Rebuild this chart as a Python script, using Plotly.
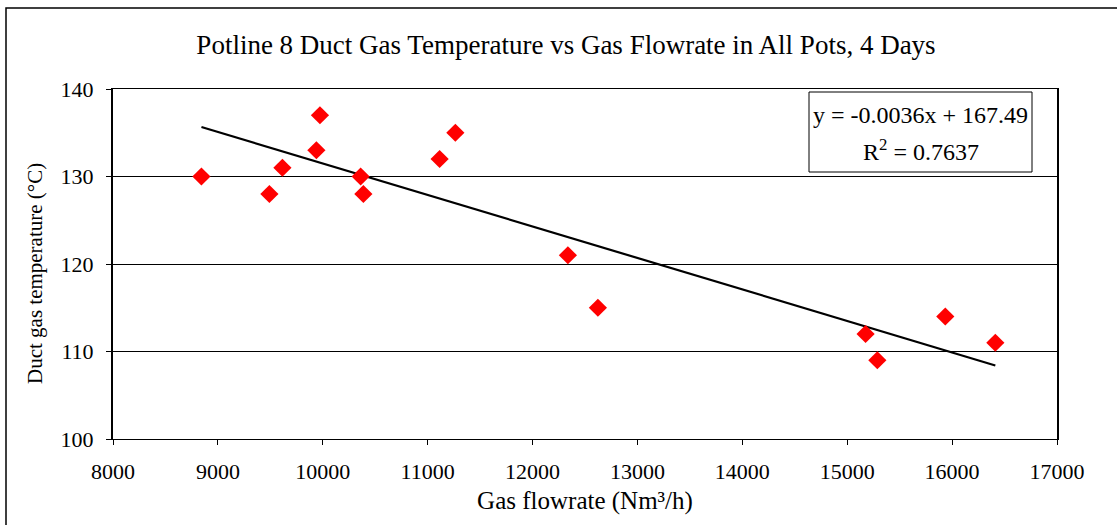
import plotly.graph_objects as go

flowrate = [8843, 9491, 9615, 9939, 9973, 10361, 10387, 11114, 11264,
            12337, 12623, 15175, 15287, 15935, 16412]
temperature = [130, 128, 131, 133, 137, 130, 128, 132, 135,
               121, 115, 112, 109, 114, 111]
slope = -0.0036
intercept = 167.49
r_squared = 0.7637
x_ticks = [8000, 9000, 10000, 11000, 12000, 13000, 14000, 15000, 16000, 17000]
y_ticks = [100, 110, 120, 130, 140]

FONT = "Liberation Serif, Times New Roman, serif"

W, H = 1117, 525
L, R, T, B = 113, W - 1057, 89, H - 439
pw, ph = W - L - R, H - T - B

def px_x(p):
    return (p - L) / pw

def px_y(p):
    return (H - B - p) / ph

fig = go.Figure()

xmin, xmax = min(flowrate), max(flowrate)
fig.add_trace(go.Scatter(
    x=[xmin, xmax], y=[slope * xmin + intercept, slope * xmax + intercept],
    mode="lines", line=dict(color="black", width=2.2), hoverinfo="skip",
    showlegend=False))

fig.add_trace(go.Scatter(
    x=flowrate, y=temperature, mode="markers",
    marker=dict(symbol="diamond", size=14, color="#ff0000",
                line=dict(width=0)),
    showlegend=False))

fig.update_layout(
    width=W, height=H,
    margin=dict(l=L, r=R, t=T, b=B),
    paper_bgcolor="white", plot_bgcolor="white",
    font=dict(family=FONT, size=22, color="black"),
    title=dict(text="Potline 8 Duct Gas Temperature vs Gas Flowrate in All Pots, 4 Days",
               x=566 / W, xanchor="center", y=1 - 45 / H, yanchor="middle",
               font=dict(family=FONT, size=27, color="black")),
    xaxis=dict(range=[8000, 17000], tickvals=x_ticks,
               ticktext=[str(v) for v in x_ticks],
               showgrid=False, zeroline=False,
               showline=True, linecolor="black", linewidth=1, mirror=True,
               ticks="outside", ticklen=5, tickcolor="black",
               ticklabelstandoff=8,
               tickfont=dict(family=FONT, size=22),
               title=dict(text="Gas flowrate (Nm³/h)", standoff=8,
                          font=dict(family=FONT, size=25))),
    yaxis=dict(range=[100, 140], tickvals=y_ticks,
               ticktext=[str(v) for v in y_ticks],
               showgrid=True, gridcolor="black", gridwidth=1,
               zeroline=False,
               showline=True, linecolor="black", linewidth=2, mirror=True,
               ticks="outside", ticklen=5, tickcolor="black",
               ticklabelstandoff=8,
               tickfont=dict(family=FONT, size=22)),
)

# y axis title placed as annotation
fig.add_annotation(xref="paper", yref="paper", x=px_x(35), y=px_y(274),
                   text="Duct gas temperature (°C)", textangle=-90,
                   showarrow=False, xanchor="center", yanchor="middle",
                   font=dict(family=FONT, size=21, color="black"))

# outer chart border
fig.add_shape(type="rect", xref="paper", yref="paper",
              x0=px_x(6), x1=px_x(W + 5), y0=px_y(H + 5), y1=px_y(8),
              line=dict(color="black", width=1.5), fillcolor="rgba(0,0,0,0)",
              layer="below")

# equation box
fig.add_shape(type="rect", xref="paper", yref="paper",
              x0=px_x(809), x1=px_x(1032), y0=px_y(172), y1=px_y(92),
              line=dict(color="black", width=1), fillcolor="white")
fig.add_annotation(xref="paper", yref="paper", x=px_x(920.5), y=px_y(115),
                   text=f"y = {slope}x + {intercept}", showarrow=False,
                   xanchor="center", yanchor="middle",
                   font=dict(family=FONT, size=24, color="black"))
fig.add_annotation(xref="paper", yref="paper", x=px_x(920.5), y=px_y(150),
                   text=f"R<sup>2</sup> = {r_squared}", showarrow=False,
                   xanchor="center", yanchor="middle",
                   font=dict(family=FONT, size=24, color="black"))

fig.write_html("out.html", config={"displayModeBar": False},
               post_script="document.body.style.margin='0';")
